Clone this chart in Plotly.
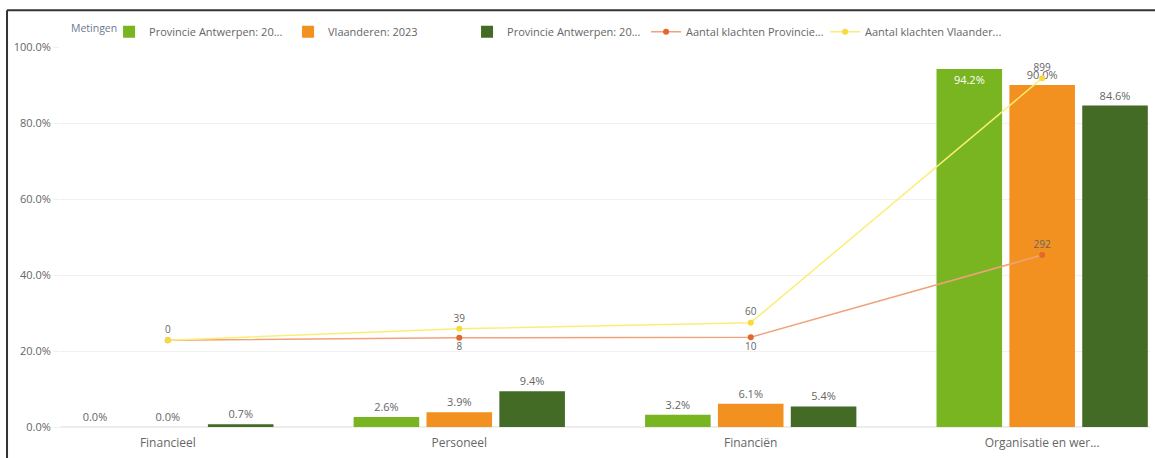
import plotly.graph_objects as go

categories = ["Financieel", "Personeel", "Financiën", "Organisatie en wer..."]
prov_a = [0.0, 2.6, 3.2, 94.2]
vlaanderen_2023 = [0.0, 3.9, 6.1, 90.0]
prov_b = [0.7, 9.4, 5.4, 84.6]
klachten_prov = [0, 8, 10, 292]
klachten_vl = [0, 39, 60, 899]

series_names = [
    "Provincie Antwerpen: 20...",
    "Vlaanderen: 2023",
    "Provincie Antwerpen: 20...",
    "Aantal klachten Provincie...",
    "Aantal klachten Vlaander...",
]
legend_title = "Metingen"

FONT = "Open Sans"
LBL = "#666666"

fig = go.Figure()

bar_series = [(prov_a, "#79B520", series_names[0]),
              (vlaanderen_2023, "#F2911F", series_names[1]),
              (prov_b, "#436B25", series_names[2])]
for vals, col, name in bar_series:
    top = max(vals)
    pos = ["inside" if (v == top and v > 92) else "outside" for v in vals]
    tcol = ["#FFFFFF" if p == "inside" else LBL for p in pos]
    fig.add_trace(go.Bar(
        x=categories, y=vals, name=name,
        marker=dict(color=col, line=dict(width=0)),
        texttemplate="%{y:.1f}%", textposition=pos,
        insidetextanchor="end", textangle=0,
        textfont=dict(family=FONT, size=11, color=tcol),
        outsidetextfont=dict(family=FONT, size=11, color=LBL),
        insidetextfont=dict(family=FONT, size=11, color="#FFFFFF"),
        cliponaxis=False,
    ))

prov_text = ["" if i == 0 else str(v) for i, v in enumerate(klachten_prov)]
prov_pos = ["bottom center"] * (len(klachten_prov) - 1) + ["top center"]
fig.add_trace(go.Scatter(
    x=categories, y=klachten_prov, name=series_names[3], yaxis="y2",
    mode="lines+markers+text", text=prov_text, textposition=prov_pos,
    textfont=dict(family=FONT, size=10, color=LBL),
    line=dict(color="#F0A27C", width=1.5),
    marker=dict(color="#E2672C", size=6), cliponaxis=False,
))
fig.add_trace(go.Scatter(
    x=categories, y=klachten_vl, name=series_names[4], yaxis="y2",
    mode="lines+markers+text", text=[str(v) for v in klachten_vl],
    textposition="top center",
    textfont=dict(family=FONT, size=10, color=LBL),
    line=dict(color="#FBEE78", width=1.5),
    marker=dict(color="#F8DB3A", size=6), cliponaxis=False,
))

fig.update_layout(
    width=1155, height=458,
    margin=dict(l=60, r=5, t=47, b=31),
    paper_bgcolor="white", plot_bgcolor="white",
    font=dict(family=FONT, size=11, color=LBL),
    barmode="group", bargap=0.25, bargroupgap=0.1,
    showlegend=True,
    legend=dict(
        orientation="h", x=0.045, xanchor="left", y=1.04, yanchor="middle",
        valign="middle",
        font=dict(family=FONT, size=11, color="#666666"),
        entrywidth=134, entrywidthmode="pixels", itemwidth=30,
        bgcolor="rgba(0,0,0,0)",
    ),
    annotations=[dict(
        text=legend_title, xref="paper", yref="paper", x=0.008, y=1.05,
        xanchor="left", yanchor="middle", showarrow=False,
        font=dict(family=FONT, size=10.5, color="#6A7A90"),
    )],
    xaxis=dict(
        type="category", range=[-0.37, 3.37], showgrid=False, showline=False,
        ticks="outside", ticklen=5, tickcolor="rgba(0,0,0,0)",
        tickfont=dict(family=FONT, size=12, color=LBL),
        zeroline=False,
    ),
    yaxis=dict(
        range=[0, 100], dtick=20, tickformat=".1f", ticksuffix="%",
        showgrid=True, gridcolor="#F0F0F0", gridwidth=1,
        zeroline=True, zerolinecolor="#EDEDED",
        ticks="outside", ticklen=6, tickcolor="#F0F0F0",
        tickfont=dict(family=FONT, size=11, color=LBL),
        showline=False,
    ),
    yaxis2=dict(
        overlaying="y", side="right", range=[-298, 1006],
        visible=False, showgrid=False, zeroline=False,
    ),
    shapes=[
        dict(type="line", xref="paper", yref="paper", x0=-0.0486, x1=-0.0486,
             y0=1.097, y1=-0.1, line=dict(color="#333333", width=2)),
        dict(type="line", xref="paper", yref="paper", x0=-0.0486, x1=1.01,
             y0=1.097, y1=1.097, line=dict(color="#333333", width=2)),
    ],
)

fig.write_html("out.html", config={"displayModeBar": False},
               post_script="document.body.style.margin='0';document.body.style.overflow='hidden';")
